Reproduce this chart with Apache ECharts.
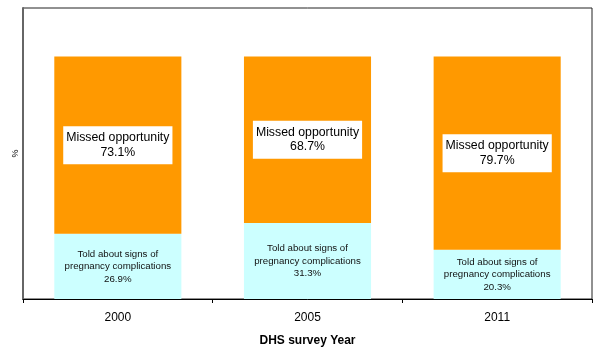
<!DOCTYPE html>
<html>
<head>
<meta charset="utf-8">
<script src="https://cdn.jsdelivr.net/npm/echarts@6/dist/echarts.min.js"></script>
<style>
  html, body { margin: 0; padding: 0; background: #fff; }
  #chart { width: 593px; height: 352px; }
</style>
</head>
<body>
<div id="chart"></div>
<script>
// DHS survey years and the share of women in each outcome group (%)
const years = ['2000', '2005', '2011'];
const toldAboutSigns = [26.9, 31.3, 20.3];
const missedOpportunity = [73.1, 68.7, 79.7];

const chart = echarts.init(document.getElementById('chart'));
const font = 'Liberation Sans, Arial, sans-serif';

chart.setOption({
  animation: false,
  grid: {
    left: 23, right: 1, top: 8, bottom: 49,
    show: true, borderColor: '#222', borderWidth: 1, backgroundColor: 'transparent'
  },
  xAxis: {
    type: 'category',
    data: years,
    name: 'DHS survey Year',
    nameLocation: 'middle',
    nameGap: 36,
    nameTextStyle: { fontFamily: font, fontSize: 12, fontWeight: 'bold', color: '#000' },
    axisLine: { lineStyle: { color: '#000', width: 1 } },
    axisTick: { show: true, length: 4, lineStyle: { color: '#000' } },
    axisLabel: { fontFamily: font, fontSize: 12, color: '#000', margin: 13 }
  },
  yAxis: {
    type: 'value',
    min: 0,
    max: 120,
    name: '%',
    nameLocation: 'middle',
    nameGap: 3,
    nameRotate: 90,
    nameTextStyle: { fontFamily: font, fontSize: 9, color: '#000' },
    axisLine: { show: true, lineStyle: { color: '#666', width: 2 } },
    axisTick: { show: false },
    axisLabel: { show: false },
    splitLine: { show: false }
  },
  series: [
    {
      name: 'Told about signs of pregnancy complications',
      type: 'bar',
      stack: 'total',
      barWidth: '67%',
      data: toldAboutSigns,
      itemStyle: { color: '#CCFFFF' },
      label: {
        show: true,
        position: 'inside',
        formatter: p => 'Told about signs of\npregnancy complications\n' + p.value.toFixed(1) + '%',
        fontFamily: font,
        fontSize: 9.7,
        lineHeight: 12.5,
        color: '#111',
        align: 'center'
      }
    },
    {
      name: 'Missed opportunity',
      type: 'bar',
      stack: 'total',
      barWidth: '67%',
      data: missedOpportunity,
      itemStyle: { color: '#FF9900' },
      label: {
        show: true,
        position: 'inside',
        formatter: p => 'Missed opportunity\n' + p.value.toFixed(1) + '%',
        fontFamily: font,
        fontSize: 12.3,
        lineHeight: 14.5,
        color: '#000',
        align: 'center',
        backgroundColor: '#fff',
        padding: [5, 3, 4, 3]
      }
    }
  ]
});
</script>
</body>
</html>
